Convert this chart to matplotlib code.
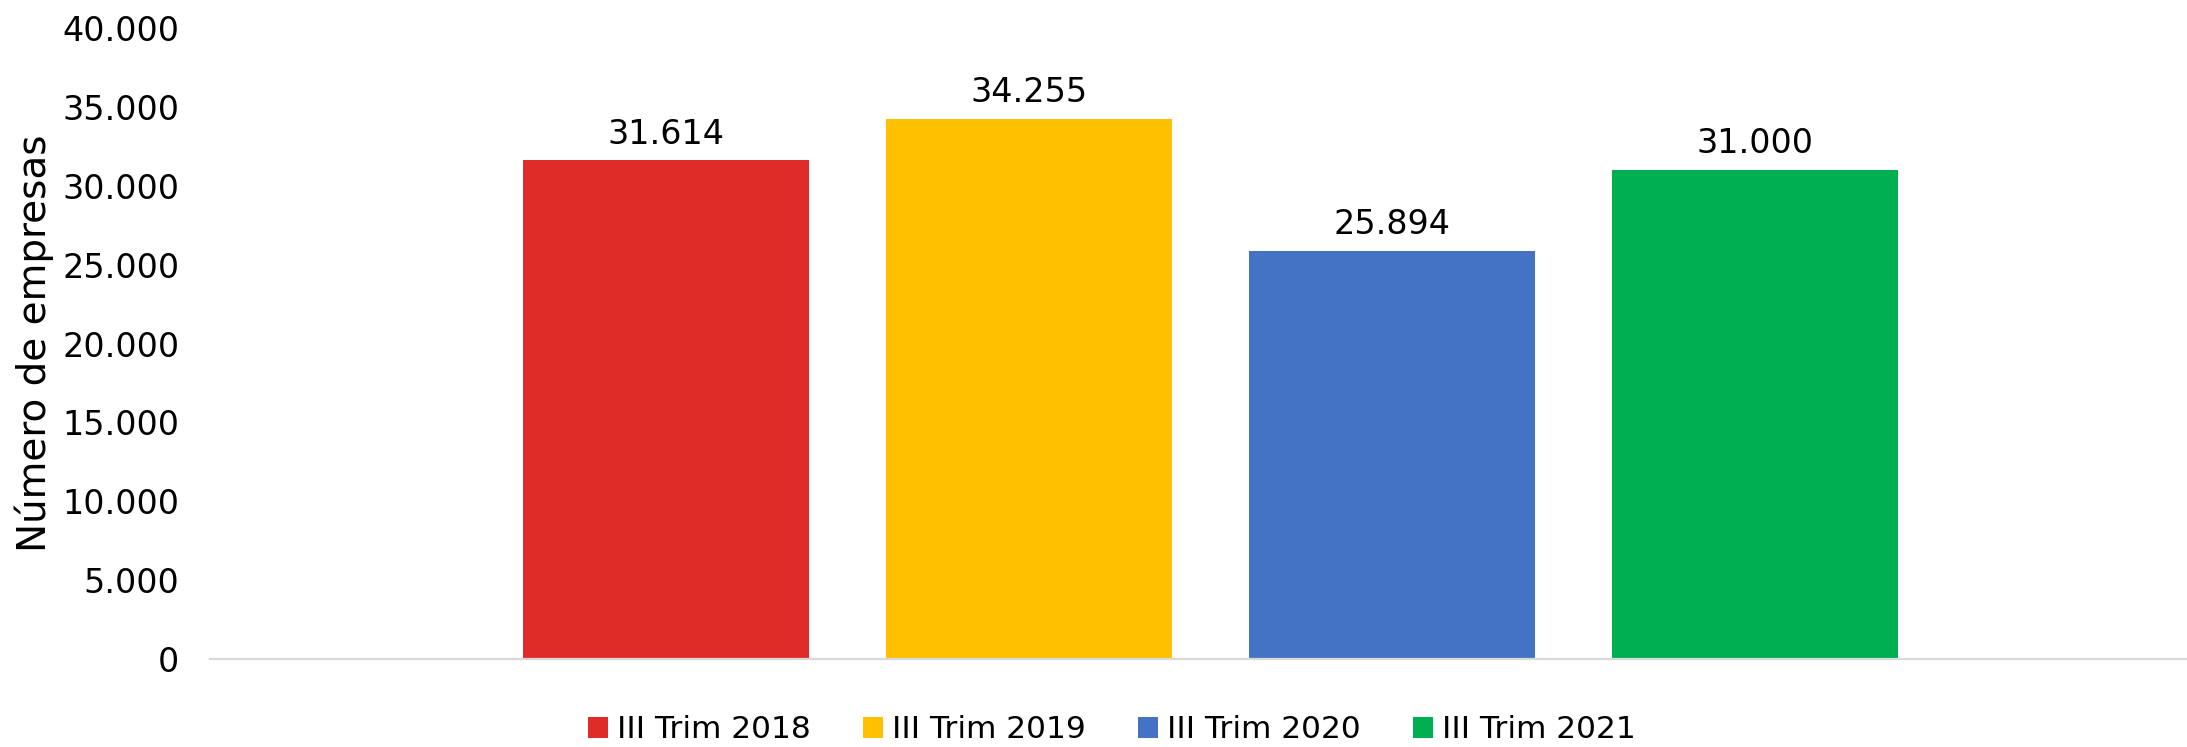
import matplotlib
matplotlib.use("Agg")
import matplotlib.pyplot as plt
from matplotlib.ticker import FuncFormatter, MultipleLocator

periodos = ["III Trim 2018", "III Trim 2019", "III Trim 2020", "III Trim 2021"]
empresas = [31614, 34255, 25894, 31000]
colores = ["#E02C28", "#FFC000", "#4472C4", "#00B050"]

plt.rcParams['font.family'] = ['DejaVu Sans']
fs = 24


def miles(v, pos=None):
    return f"{v:,.0f}".replace(",", ".")


fig = plt.figure(figsize=(21.87, 7.47), dpi=100)
ax = fig.add_axes([0.096, 0.1178, 0.904, 0.8447])

for i in range(len(empresas)):
    barras = ax.bar(i, empresas[i], width=0.788, color=colores[i], label=periodos[i], zorder=2)
    ax.bar_label(barras, labels=[miles(empresas[i])], padding=7, fontsize=fs)

ax.set_xlim(-1.256, 4.19)
ax.set_ylim(0, 40000)
ax.yaxis.set_major_locator(MultipleLocator(5000))
ax.yaxis.set_major_formatter(FuncFormatter(miles))
ax.set_xticks([])
ax.tick_params(axis='y', length=0, pad=22, labelsize=fs)
ax.set_ylabel("Número de empresas", fontsize=28, labelpad=6)

for s in ["top", "right", "left"]:
    ax.spines[s].set_visible(False)
ax.spines["bottom"].set_color("#d9d9d9")
ax.spines["bottom"].set_linewidth(1.6)

fig.legend(loc="center", bbox_to_anchor=(1112 / 2187, 1 - 730 / 747), ncol=4,
           frameon=False, fontsize=22.5, handlelength=0.64, handleheight=0.64,
           handletextpad=0.3, columnspacing=1.66)

fig.savefig("out.png", dpi=100)
